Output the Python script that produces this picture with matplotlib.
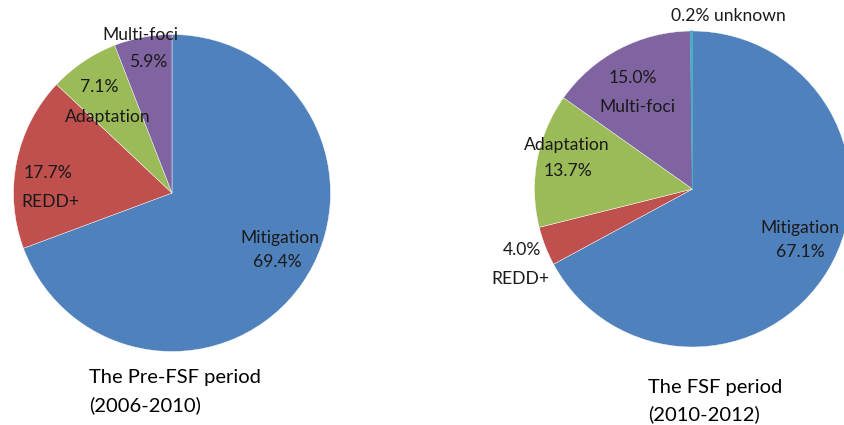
import matplotlib.pyplot as plt

# shares of climate finance by focus, before and during the FSF period
pre_labels = ["Mitigation", "REDD+", "Adaptation", "Multi-foci"]
pre_values = [69.4, 17.7, 7.1, 5.9]

fsf_labels = ["Mitigation", "REDD+", "Adaptation", "Multi-foci", "unknown"]
fsf_values = [67.1, 4.0, 13.7, 15.0, 0.2]

colors = ["#4F81BD", "#C0504D", "#9BBB59", "#8064A2", "#4BACC6"]

W, H = 844, 425
plt.rcParams['font.family'] = ['Lato', 'DejaVu Sans']

fig = plt.figure(figsize=(W / 100, H / 100), dpi=100)
ax = fig.add_axes([0, 0, 1, 1])

wedge_style = dict(edgecolor='white', linewidth=0.3)
ax.pie(pre_values, colors=colors[:4], startangle=90, counterclock=False,
       center=(172, H - 193), radius=158.5, wedgeprops=wedge_style, frame=True)
fsf_wedges, _ = ax.pie(fsf_values, colors=colors, startangle=90, counterclock=False,
                       center=(692.5, H - 189), radius=158, wedgeprops=wedge_style, frame=True)
# the tiny "unknown" slice would vanish under a white edge
fsf_wedges[-1].set_edgecolor(colors[4])
fsf_wedges[-1].set_linewidth(0.8)
ax.set_xlim(0, W)
ax.set_ylim(0, H)
ax.set_aspect('equal')
ax.axis('off')

fs = 12.6


def label(x, y, s, ha='center'):
    ax.text(x, H - y, s, ha=ha, va='center', fontsize=fs, color='#1a1a1a')


# left pie labels
label(140, 35, pre_labels[3])
label(148, 62, f"{pre_values[3]:.1f}%")
label(99, 87, f"{pre_values[2]:.1f}%")
label(108, 117, pre_labels[2])
label(48, 173, f"{pre_values[1]:.1f}%")
label(50, 202, pre_labels[1])
label(280, 238, pre_labels[0])
label(277, 262, f"{pre_values[0]:.1f}%")

# right pie labels
label(728, 16, f"{fsf_values[4]:.1f}% {fsf_labels[4]}")
label(633, 78, f"{fsf_values[3]:.1f}%")
label(637, 107, fsf_labels[3])
label(567, 145, fsf_labels[2])
label(568, 171, f"{fsf_values[2]:.1f}%")
label(522, 250, f"{fsf_values[1]:.1f}%")
label(520, 279, fsf_labels[1])
label(800, 228, fsf_labels[0])
label(800, 252, f"{fsf_values[0]:.1f}%")

# period captions
tfs = 14.5
ax.text(89, H - 377, "The Pre-FSF period", ha='left', va='center', fontsize=tfs, color='black')
ax.text(89, H - 405, "(2006-2010)", ha='left', va='center', fontsize=tfs, color='black')
ax.text(648, H - 387, "The FSF period", ha='left', va='center', fontsize=tfs, color='black')
ax.text(648, H - 414, "(2010-2012)", ha='left', va='center', fontsize=tfs, color='black')

fig.savefig("out.png", dpi=100, facecolor='white')
